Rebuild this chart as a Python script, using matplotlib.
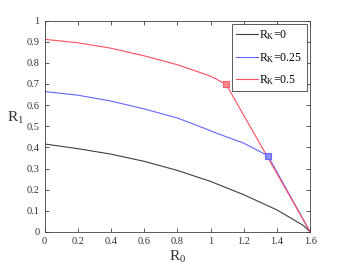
import matplotlib
matplotlib.use('Agg')
import matplotlib.pyplot as plt

plt.rcParams['font.family'] = ['Liberation Serif', 'DejaVu Serif']
plt.rcParams['mathtext.fontset'] = 'custom'
plt.rcParams['mathtext.rm'] = 'Liberation Serif'
plt.rcParams['mathtext.it'] = 'Liberation Serif'

# ===== data =====
r0_k0 = [0.0, 0.2, 0.4, 0.6, 0.8, 1.0, 1.2, 1.4, 1.5, 1.56, 1.6]
r1_k0 = [0.416, 0.394, 0.368, 0.334, 0.291, 0.239, 0.176, 0.104, 0.058, 0.03, 0.0]

r0_k25 = [0.0, 0.2, 0.4, 0.6, 0.8, 0.97, 1.04, 1.2, 1.346, 1.6]
r1_k25 = [0.664, 0.647, 0.619, 0.582, 0.539, 0.488, 0.466, 0.42, 0.36, 0.0]

r0_k5 = [0.0, 0.2, 0.4, 0.6, 0.8, 1.0, 1.094, 1.6]
r1_k5 = [0.911, 0.895, 0.869, 0.833, 0.791, 0.737, 0.698, 0.0]

# switching points (markers)
mark_k25 = (1.346, 0.36)
mark_k5 = (1.094, 0.698)

labels = ['R$_K$=0', 'R$_K$=0.25', 'R$_K$=0.5']
colors = ['#404040', '#6464ff', '#ff4f5e']

fig = plt.figure(figsize=(3.45, 2.7), dpi=100)
ax = fig.add_axes([0.129, 0.141, 0.77, 0.783])

ax.plot(r0_k0, r1_k0, color=colors[0], lw=0.8, label=labels[0])
ax.plot(r0_k25, r1_k25, color=colors[1], lw=0.8, label=labels[1])
ax.plot(r0_k5, r1_k5, color=colors[2], lw=0.8, label=labels[2])

ax.plot(*mark_k25, 's', ms=5, mfc='#8c8cff', mec='#6464ff', mew=0.8)
ax.plot(*mark_k5, 's', ms=5, mfc='#ff8a8a', mec='#ff6070', mew=0.8)

ax.set_xlim(0, 1.6)
ax.set_ylim(0, 1)
xt = [0, 0.2, 0.4, 0.6, 0.8, 1, 1.2, 1.4, 1.6]
yt = [0, 0.1, 0.2, 0.3, 0.4, 0.5, 0.6, 0.7, 0.8, 0.9, 1]
ax.set_xticks(xt)
ax.set_xticklabels([f'{v:g}' for v in xt])
ax.set_yticks(yt)
ax.set_yticklabels([f'{v:g}' for v in yt])
ax.tick_params(direction='in', top=True, right=True, labelsize=7.5,
               length=3, width=0.6, colors='#404040', labelcolor='#333333')
for s in ax.spines.values():
    s.set_color('#404040')
    s.set_linewidth(0.6)

ax.set_xlabel('R$_0$', fontsize=11, color='#333333', labelpad=2)
ax.set_ylabel('R$_1$', fontsize=11, color='#333333', rotation=0)
ax.yaxis.set_label_coords(-0.11, 0.5)

leg = ax.legend(loc='upper right', fontsize=8.5, handlelength=1.9,
                handletextpad=0.1, borderpad=0.35, labelspacing=0.75,
                fancybox=False, framealpha=1, borderaxespad=0.3)
leg.get_frame().set_edgecolor('#404040')
leg.get_frame().set_linewidth(0.6)

fig.savefig('out.png', dpi=100)
